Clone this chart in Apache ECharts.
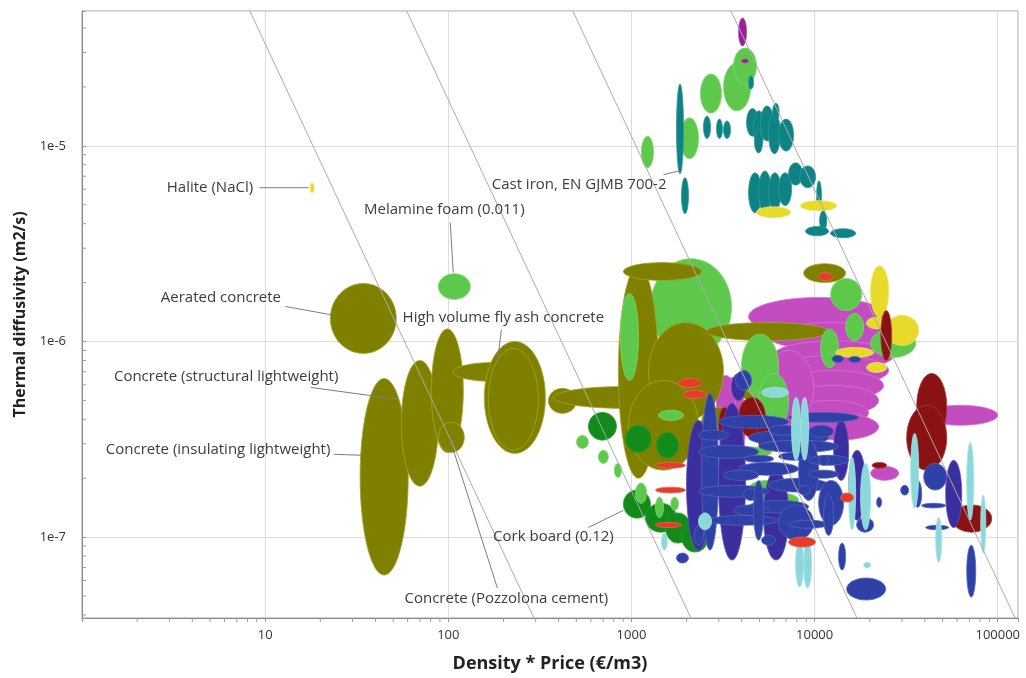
<!DOCTYPE html>
<html>
<head>
<meta charset="utf-8">
<script src="https://cdn.jsdelivr.net/npm/echarts@6/dist/echarts.min.js"></script>
<style>
  html, body { margin: 0; padding: 0; background: #ffffff; }
  #chart { width: 1026px; height: 678px; }
</style>
</head>
<body>
<div id="chart"></div>
<script>
// ---- axis extents and tick labels ----
const xRange = [1, 129000];
const yRange = [3.86e-8, 4.89e-5];
const xTickLabels = ['10', '100', '1000', '10000', '100000'];   // 10^1 .. 10^5
const yTickLabels = ['1e-7', '1e-6', '1e-5'];                   // 10^-7 .. 10^-5

// ---- material property ranges: [price*density low, high, diffusivity low, high] ----
const magentaRanges = [
  [4358, 25368, 1.07e-6, 1.68e-6],
  [5606, 28774, 9.0e-7, 1.25e-6],
  [5971, 27000, 7.11e-7, 1.01e-6],
  [6358, 25368, 5.96e-7, 8.49e-7],
  [6771, 23800, 5.0e-7, 7.11e-7],
  [7211, 22369, 4.19e-7, 5.96e-7],
  [7679, 19724, 3.73e-7, 5.0e-7],
  [8177, 22369, 3.13e-7, 4.29e-7],
  [3609, 8177, 3.13e-7, 5.3e-7],
  [5264, 9874, 3.73e-7, 9.0e-7],
  [2988, 4198, 2.2e-7, 6.55e-7],
  [2914, 3701, 3.31e-7, 6.71e-7],
  [39416, 100000, 3.73e-7, 4.72e-7],
  [20226, 28774, 1.95e-7, 2.3e-7]
];
const darkMagentaRanges = [
  [3843, 4250, 3.24e-5, 4.5e-5],
  [3991, 4358, 2.65e-5, 2.78e-5]
];
const lightGreenRear = [
  [1270, 3519, 8.49e-7, 2.65e-6]
];
const oliveRanges = [
  [22.7, 52.0, 8.69e-7, 1.98e-6],
  [33.0, 60.4, 6.4e-8, 6.47e-7],
  [55.4, 88.2, 1.82e-7, 8.0e-7],
  [80.8, 120.8, 2.71e-7, 1.16e-6],
  [106.5, 291, 6.25e-7, 7.81e-7],
  [157.3, 339, 2.68e-7, 1.0e-6],
  [165.4, 310, 2.78e-7, 9.2e-7],
  [88.2, 122.3, 2.71e-7, 3.86e-7],
  [352, 501, 4.29e-7, 5.76e-7],
  [375, 2323, 4.55e-7, 5.89e-7],
  [849, 1405, 2.0e-7, 2.44e-6],
  [904, 2413, 2.05e-6, 2.53e-6],
  [1239, 3182, 3.95e-7, 1.25e-6],
  [963, 2323, 2.2e-7, 6.32e-7],
  [2570, 11925, 1.01e-6, 1.25e-6],
  [8710, 14771, 2.0e-6, 2.5e-6],
  [2413, 3701, 3.24e-7, 4.61e-7],
  [3701, 5971, 5.0e-7, 6.71e-7]
];
const lightGreenRanges = [
  [88.2, 131.9, 1.64e-6, 2.22e-6],
  [871, 1092, 6.32e-7, 1.76e-6],
  [3991, 6358, 5.12e-7, 1.09e-6],
  [4943, 7211, 3.52e-7, 6.87e-7],
  [1405, 1924, 3.95e-7, 4.45e-7],
  [2380, 3103, 1.47e-5, 2.33e-5],
  [3182, 4470, 1.51e-5, 2.65e-5],
  [3609, 4820, 2.07e-5, 3.16e-5],
  [1853, 2323, 8.59e-6, 1.39e-5],
  [1134, 1319, 7.72e-6, 1.12e-5],
  [12230, 18062, 1.44e-6, 2.1e-6],
  [14771, 18522, 1.01e-6, 1.39e-6],
  [10785, 13522, 7.37e-7, 1.16e-6],
  [20226, 35644, 8.29e-7, 1.16e-6],
  [501, 582, 2.84e-7, 3.31e-7],
  [660, 748, 2.38e-7, 2.78e-7],
  [807, 882, 2.02e-7, 2.38e-7],
  [2737, 3843, 3.31e-7, 3.73e-7],
  [3519, 5821, 2.56e-7, 2.89e-7],
  [5133, 8177, 1.42e-7, 1.68e-7],
  [3843, 5606, 1.34e-7, 1.46e-7],
  [4358, 6900, 1.6e-7, 1.95e-7]
];
const darkGreenRanges = [
  [582, 828, 3.13e-7, 4.34e-7],
  [927, 1286, 2.71e-7, 3.73e-7],
  [1370, 1807, 2.53e-7, 3.43e-7],
  [904, 1270, 1.25e-7, 1.74e-7],
  [1192, 1762, 1.06e-7, 1.49e-7],
  [1534, 2101, 9.32e-8, 1.33e-7],
  [1876, 2636, 8.39e-8, 1.22e-7]
];
const lightGreenFront = [
  [1052, 1210, 1.49e-7, 1.89e-7],
  [1353, 1496, 1.26e-7, 1.6e-7],
  [1640, 1807, 1.37e-7, 1.6e-7],
  [2520, 2877, 1.02e-7, 1.25e-7],
  [3300, 3701, 9.65e-8, 1.12e-7]
];
const tealRanges = [
  [1762, 1924, 7.2e-6, 2.07e-5],
  [1876, 2048, 4.5e-6, 6.87e-6],
  [2474, 2703, 1.09e-5, 1.42e-5],
  [2914, 3140, 1.09e-5, 1.37e-5],
  [3182, 3475, 1.09e-5, 1.34e-5],
  [4358, 4642, 1.95e-5, 2.28e-5],
  [4250, 4943, 1.12e-5, 1.55e-5],
  [4642, 5330, 1.0e-5, 1.51e-5],
  [5070, 5971, 1.06e-5, 1.6e-5],
  [5606, 6500, 9.1e-6, 1.47e-5],
  [6358, 7679, 9.4e-6, 1.37e-5],
  [4700, 5200, 9.2e-6, 1.2e-5],
  [5900, 6400, 1.35e-5, 1.65e-5],
  [4358, 5133, 4.55e-6, 7.28e-6],
  [4943, 5800, 4.55e-6, 7.44e-6],
  [5606, 6560, 4.66e-6, 7.28e-6],
  [6358, 7488, 4.95e-6, 7.28e-6],
  [7211, 8600, 6.3e-6, 8.19e-6],
  [8300, 10127, 6.11e-6, 7.9e-6],
  [10254, 10900, 4.66e-6, 6.63e-6],
  [10650, 11650, 3.68e-6, 4.66e-6],
  [8929, 11925, 3.47e-6, 3.87e-6],
  [12230, 16749, 3.39e-6, 3.77e-6]
];
const yellowRanges = [
  [17.6, 18.5, 5.76e-6, 6.47e-6],
  [4820, 7395, 4.29e-6, 4.88e-6],
  [8385, 13188, 4.66e-6, 5.24e-6],
  [20226, 25368, 1.33e-6, 2.44e-6],
  [24429, 37014, 9.54e-7, 1.36e-6],
  [13024, 21005, 8.29e-7, 9.32e-7],
  [19234, 24738, 6.95e-7, 7.81e-7],
  [19234, 24429, 1.16e-6, 1.33e-6]
];
const darkRedRanges = [
  [23000, 26345, 8.0e-7, 1.44e-6],
  [36097, 52644, 3.13e-7, 6.87e-7],
  [31824, 52644, 2.2e-7, 4.72e-7],
  [56063, 92772, 1.06e-7, 1.46e-7],
  [3843, 5398, 3.24e-7, 5.18e-7],
  [2988, 3475, 2.95e-7, 4.61e-7],
  [20600, 24738, 2.25e-7, 2.41e-7],
  [4820, 6358, 2.78e-7, 3.95e-7]
];
const indigoRanges = [
  [2988, 4198, 7.63e-8, 4.83e-7],
  [1998, 2703, 8.59e-8, 3.95e-7],
  [5264, 7211, 7.63e-8, 2.2e-7],
  [12700, 15339, 1.95e-7, 3.95e-7],
  [15339, 18993, 1.22e-7, 2.78e-7],
  [51986, 63583, 1.12e-7, 2.47e-7],
  [3519, 4198, 5.0e-7, 6.87e-7]
];
const blueRanges = [
  [2413, 2988, 8.59e-8, 5.43e-7],
  [2988, 7211, 3.6e-7, 4.19e-7],
  [4358, 11925, 2.95e-7, 3.52e-7],
  [4943, 13522, 2.71e-7, 3.13e-7],
  [3843, 8177, 2.07e-7, 2.41e-7],
  [5606, 11925, 1.7e-7, 2.0e-7],
  [4358, 9273, 1.33e-7, 1.54e-7],
  [6358, 9874, 9.65e-8, 1.46e-7],
  [8177, 10517, 1.54e-7, 3.13e-7],
  [10517, 14404, 1.15e-7, 1.95e-7],
  [16961, 21005, 1.06e-7, 1.26e-7],
  [39416, 52644, 1.74e-7, 2.38e-7],
  [29508, 32636, 1.64e-7, 1.84e-7],
  [34755, 38438, 1.42e-7, 1.95e-7],
  [38438, 51986, 1.41e-7, 1.49e-7],
  [40422, 53985, 1.09e-7, 1.15e-7],
  [13522, 14771, 6.79e-8, 9.32e-8],
  [14958, 24429, 4.77e-8, 6.18e-8],
  [67709, 75834, 4.94e-8, 9.1e-8],
  [21812, 23229, 1.42e-7, 1.6e-7],
  [1762, 2048, 7.37e-8, 8.29e-8],
  [5133, 6123, 9.1e-8, 1.02e-7],
  [2323, 4943, 2.53e-7, 2.95e-7],
  [2323, 5606, 1.6e-7, 1.84e-7],
  [2636, 6358, 1.15e-7, 1.29e-7],
  [7211, 17393, 3.86e-7, 4.34e-7],
  [9273, 15339, 2.33e-7, 2.62e-7],
  [3701, 4527, 5.62e-7, 7.11e-7],
  [12465, 14404, 7.81e-7, 8.49e-7],
  [15339, 17836, 7.81e-7, 8.39e-7],
  [2200, 2474, 9.1e-8, 1.15e-7],
  [4093, 5971, 2.41e-7, 2.62e-7],
  [6358, 9273, 2.47e-7, 2.71e-7],
  [3182, 4943, 1.95e-7, 2.2e-7],
  [9273, 13522, 2.0e-7, 2.2e-7],
  [3609, 5606, 1.29e-7, 1.46e-7],
  [7211, 11925, 1.11e-7, 1.22e-7],
  [2323, 3389, 3.13e-7, 3.52e-7],
  [5606, 8177, 3.31e-7, 3.73e-7],
  [9273, 12700, 3.24e-7, 3.73e-7],
  [4093, 4943, 1.54e-7, 1.78e-7],
  [8177, 9450, 1.64e-7, 1.84e-7],
  [10517, 11925, 2.33e-7, 2.62e-7],
  [4642, 5264, 9.65e-8, 1.95e-7],
  [11199, 12700, 1.02e-7, 1.64e-7]
];
const cyanRanges = [
  [7875, 8710, 5.56e-8, 9.65e-8],
  [8710, 9630, 5.49e-8, 9.65e-8],
  [33467, 37014, 1.41e-7, 3.39e-7],
  [67709, 73951, 1.22e-7, 3.05e-7],
  [80788, 86035, 8.29e-8, 1.64e-7],
  [45832, 49428, 7.45e-8, 1.26e-7],
  [17836, 20226, 1.09e-7, 2.38e-7],
  [15339, 16749, 1.09e-7, 2.56e-7],
  [18522, 20226, 6.95e-8, 7.45e-8],
  [5133, 7211, 5.18e-7, 5.82e-7],
  [7488, 8385, 2.47e-7, 5.18e-7],
  [8385, 9273, 2.47e-7, 5.18e-7],
  [1460, 1570, 8.59e-8, 1.05e-7],
  [2323, 2737, 1.09e-7, 1.33e-7]
];
const redRanges = [
  [1807, 2413, 5.82e-7, 6.47e-7],
  [1924, 2570, 5.12e-7, 5.62e-7],
  [1353, 1973, 2.25e-7, 2.41e-7],
  [1353, 1973, 1.68e-7, 1.8e-7],
  [1353, 1876, 1.12e-7, 1.19e-7],
  [7211, 10127, 8.89e-8, 1.0e-7],
  [10517, 12500, 2.05e-6, 2.25e-6],
  [13869, 16333, 1.51e-7, 1.68e-7]
];

// Guide lines of constant diffusivity * (density*price)^2
const guideConstants = [3.33e-3, 0.172, 11.2, 597];

// Named materials: label anchor, leader start, leader end (data coordinates)
const callouts = [
  { text: 'Halite (NaCl)', at: [8.6, 6.11e-6], align: 'right', from: [9.3, 6.11e-6], to: [17.3, 6.11e-6] },
  { text: 'Melamine foam (0.011)', at: [95.1, 4.72e-6], align: 'center', from: [102.5, 4.05e-6], to: [106.4, 2.25e-6] },
  { text: 'Aerated concrete', at: [12.2, 1.68e-6], align: 'right', from: [12.9, 1.51e-6], to: [22.9, 1.37e-6] },
  { text: 'High volume fly ash concrete', at: [199.8, 1.33e-6], align: 'center', from: [194.9, 1.15e-6], to: [185.3, 7.81e-7] },
  { text: 'Concrete (structural lightweight)', at: [25.1, 6.63e-7], align: 'right', from: [17.8, 5.82e-7], to: [53.3, 5.06e-7] },
  { text: 'Concrete (insulating lightweight)', at: [22.7, 2.81e-7], align: 'right', from: [23.8, 2.65e-7], to: [34.3, 2.62e-7] },
  { text: 'Cork board (0.12)', at: [375, 1.0e-7], align: 'center', from: [582, 1.12e-7], to: [904, 1.37e-7] },
  { text: 'Concrete (Pozzolona cement)', at: [207.5, 4.83e-8], align: 'center', from: [185.3, 5.49e-8], to: [102.5, 3.13e-7] },
  { text: 'Cast iron, EN GJMB 700-2', at: [1553, 6.32e-6], align: 'right', from: [1496, 7.12e-6], to: [1829, 7.45e-6] }
];

const FONT = '"Open Sans", "DejaVu Sans", sans-serif';

function ellipseSeries(name, data, fill, stroke, z) {
  return {
    type: 'custom',
    name: name,
    data: data,
    z: z,
    silent: true,
    animation: false,
    encode: { x: [0, 1], y: [2, 3] },
    renderItem: function (params, api) {
      const a = api.coord([api.value(0), api.value(2)]);
      const b = api.coord([api.value(1), api.value(3)]);
      return {
        type: 'ellipse',
        shape: {
          cx: (a[0] + b[0]) / 2,
          cy: (a[1] + b[1]) / 2,
          rx: Math.abs(b[0] - a[0]) / 2,
          ry: Math.abs(a[1] - b[1]) / 2
        },
        style: { fill: fill, stroke: stroke, lineWidth: 0.8 }
      };
    }
  };
}

// guide line end points at the top and bottom of the plot
function guideData(c) {
  return [[Math.sqrt(c / yRange[1]), yRange[1]], [Math.sqrt(c / yRange[0]), yRange[0]]];
}

// minor tick positions (2..9 within each decade)
function minorValues(range) {
  const out = [];
  const lo = Math.floor(Math.log10(range[0]));
  const hi = Math.ceil(Math.log10(range[1]));
  for (let k = lo; k <= hi; k++) {
    for (let m = 2; m <= 9; m++) {
      const v = m * Math.pow(10, k);
      if (v > range[0] && v < range[1]) out.push(v);
    }
  }
  return out;
}

function powerLabel(v, labels, firstExp) {
  const e = Math.log10(v);
  const r = Math.round(e);
  if (Math.abs(e - r) > 1e-6) return '';
  const s = labels[r - firstExp];
  return s === undefined ? '' : s;
}

const chart = echarts.init(document.getElementById('chart'), null, { renderer: 'canvas' });

const series = [
  ellipseSeries('rear', lightGreenRear, '#5dc84c', '#7fd56f', 2),
  ellipseSeries('magenta', magentaRanges, '#c34cc1', '#d474d2', 3),
  ellipseSeries('olive', oliveRanges, '#808000', '#a5a52a', 4),
  ellipseSeries('lightGreen', lightGreenRanges, '#5dc84c', '#7fd56f', 5),
  ellipseSeries('darkGreen', darkGreenRanges, '#128b1b', '#2d9a33', 6),
  ellipseSeries('lightGreenFront', lightGreenFront, '#5dc84c', '#7fd56f', 7),
  ellipseSeries('teal', tealRanges, '#0f8383', '#2f9898', 8),
  ellipseSeries('yellow', yellowRanges, '#e7da2b', '#efe466', 9),
  ellipseSeries('darkRed', darkRedRanges, '#8b1212', '#a33a3a', 10),
  ellipseSeries('indigo', indigoRanges, '#3b2e9e', '#5a50b4', 11),
  ellipseSeries('blue', blueRanges, '#2f40a7', '#5564bb', 12),
  ellipseSeries('cyan', cyanRanges, '#8bd8da', '#a8e3e4', 13),
  ellipseSeries('red', redRanges, '#e43c26', '#ec6a58', 14),
  ellipseSeries('darkMagenta', darkMagentaRanges, '#9a1f98', '#b04bae', 15)
];

guideConstants.forEach(function (c, i) {
  series.push({
    type: 'line',
    name: 'guide' + i,
    data: guideData(c),
    showSymbol: false,
    symbol: 'none',
    silent: true,
    animation: false,
    clip: true,
    z: 20,
    lineStyle: { color: '#ababab', width: 1 }
  });
});

// minor ticks along both axes
series.push({
  type: 'custom',
  name: 'xMinor',
  data: minorValues(xRange).map(function (v) { return [v, yRange[0]]; }),
  silent: true, animation: false, z: 21,
  renderItem: function (params, api) {
    const p = api.coord([api.value(0), api.value(1)]);
    return { type: 'line', shape: { x1: p[0], y1: p[1], x2: p[0], y2: p[1] + 4 }, style: { stroke: '#9a9a9a', lineWidth: 1 } };
  }
});
series.push({
  type: 'custom',
  name: 'yMinor',
  data: minorValues(yRange).map(function (v) { return [xRange[0], v]; }),
  silent: true, animation: false, z: 21,
  renderItem: function (params, api) {
    const p = api.coord([api.value(0), api.value(1)]);
    return { type: 'line', shape: { x1: p[0], y1: p[1], x2: p[0] + 4, y2: p[1] }, style: { stroke: '#9a9a9a', lineWidth: 1 } };
  }
});

// labelled materials with leader lines
series.push({
  type: 'custom',
  name: 'callouts',
  data: callouts.map(function (c) { return [c.at[0], c.at[1], c.from[0], c.from[1], c.to[0], c.to[1]]; }),
  silent: true, animation: false, z: 30,
  renderItem: function (params, api) {
    const c = callouts[params.dataIndex];
    const t = api.coord([api.value(0), api.value(1)]);
    const f = api.coord([api.value(2), api.value(3)]);
    const e = api.coord([api.value(4), api.value(5)]);
    return {
      type: 'group',
      children: [
        { type: 'line', shape: { x1: f[0], y1: f[1], x2: e[0], y2: e[1] }, style: { stroke: '#7d7d7d', lineWidth: 1 } },
        {
          type: 'text',
          style: {
            x: t[0], y: t[1], text: c.text,
            align: c.align, verticalAlign: 'middle',
            fill: '#3c3c3c', font: '15px ' + FONT
          }
        }
      ]
    };
  }
});

chart.setOption({
  backgroundColor: '#ffffff',
  animation: false,
  grid: { left: 82, right: 8, top: 11, bottom: 60, show: true, borderColor: '#a0a0a0', borderWidth: 1, backgroundColor: 'transparent' },
  xAxis: {
    type: 'log', logBase: 10, min: xRange[0], max: xRange[1],
    name: 'Density * Price (€/m3)', nameLocation: 'middle', nameGap: 37,
    nameTextStyle: { fontFamily: FONT, fontWeight: 'bold', fontSize: 18, color: '#222' },
    axisLine: { show: true, lineStyle: { color: '#8c8c8c' } },
    axisTick: { show: true, length: 4, lineStyle: { color: '#9a9a9a' } },
    axisLabel: { margin: 11, fontFamily: FONT, fontSize: 13, color: '#333',
      formatter: function (v) { return powerLabel(v, xTickLabels, 1); } },
    splitLine: { show: true, lineStyle: { color: '#dcdcdc', width: 1 } }
  },
  yAxis: {
    type: 'log', logBase: 10, min: yRange[0], max: yRange[1],
    name: 'Thermal diffusivity (m2/s)', nameLocation: 'middle', nameGap: 50,
    nameTextStyle: { fontFamily: FONT, fontWeight: 'bold', fontSize: 16, color: '#222' },
    axisLine: { show: true, lineStyle: { color: '#8c8c8c' } },
    axisTick: { show: true, inside: true, length: 4, lineStyle: { color: '#9a9a9a' } },
    axisLabel: { margin: 16, fontFamily: FONT, fontSize: 13, color: '#333',
      formatter: function (v) { return powerLabel(v, yTickLabels, -7); } },
    splitLine: { show: true, lineStyle: { color: '#dcdcdc', width: 1 } }
  },
  series: series
});
</script>
</body>
</html>
